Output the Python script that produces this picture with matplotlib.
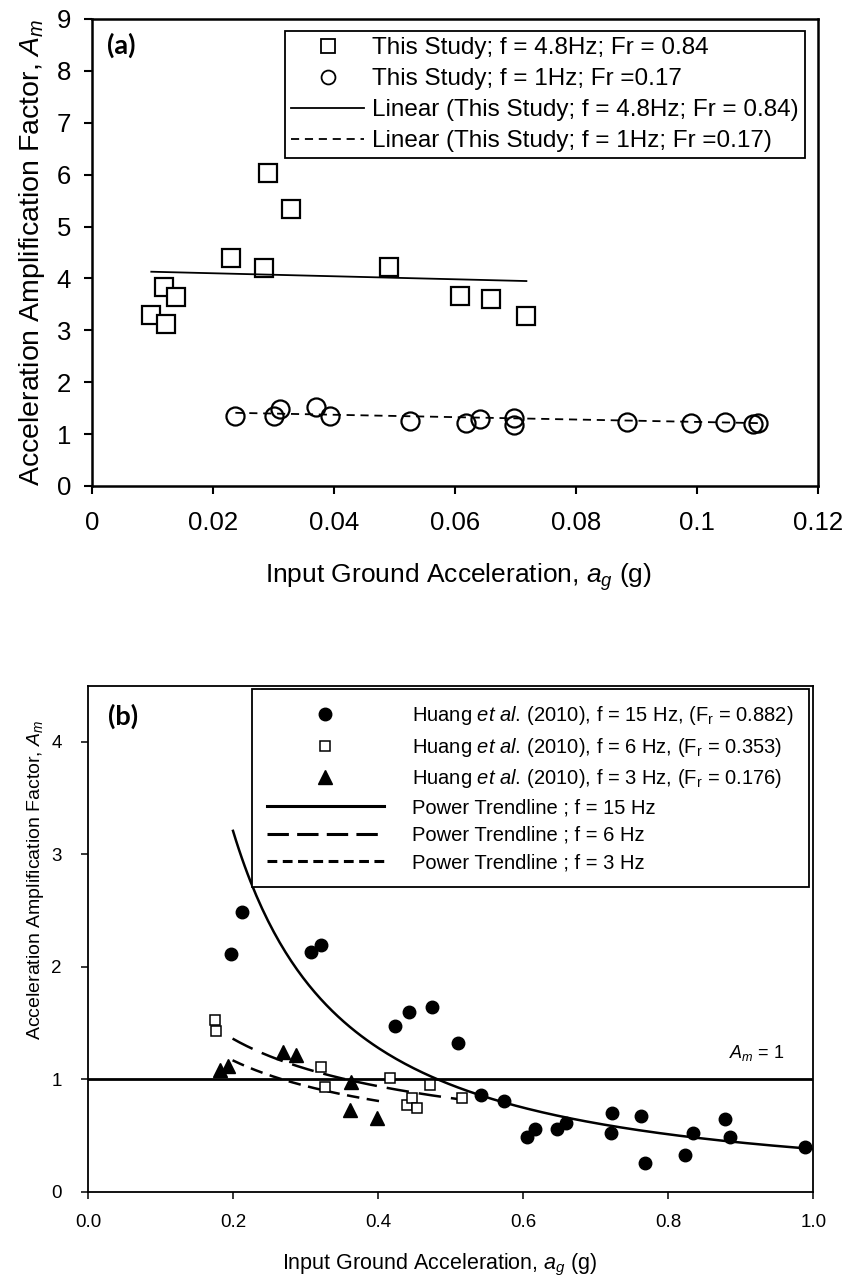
import numpy as np
import matplotlib
matplotlib.use("Agg")
import matplotlib.pyplot as plt
from matplotlib.lines import Line2D

plt.rcParams['font.family'] = ['Liberation Sans', 'DejaVu Sans']
plt.rcParams['mathtext.fontset'] = 'custom'
plt.rcParams['mathtext.rm'] = 'Liberation Sans'
plt.rcParams['mathtext.it'] = 'Liberation Sans:italic'
plt.rcParams['mathtext.bf'] = 'Liberation Sans:bold'

# ---------------- Panel (a) data ----------------
a_sq_x = [0.0098, 0.0119, 0.0123, 0.0139, 0.0230, 0.0285, 0.0291, 0.0329, 0.0491, 0.0608, 0.0660, 0.0718]
a_sq_y = [3.29, 3.84, 3.13, 3.65, 4.40, 4.21, 6.03, 5.34, 4.23, 3.67, 3.60, 3.27]
a_ci_x = [0.0237, 0.0301, 0.0311, 0.0371, 0.0393, 0.0526, 0.0618, 0.0642, 0.0697, 0.0697,
          0.0884, 0.0990, 0.1046, 0.1093, 0.1101]
a_ci_y = [1.35, 1.35, 1.48, 1.53, 1.35, 1.26, 1.22, 1.30, 1.32, 1.18,
          1.24, 1.22, 1.24, 1.19, 1.22]
# linear trendlines: (slope, intercept, x range)
a_lin_sq = (-2.9, 4.158, 0.0098, 0.0718)
a_lin_ci = (-2.3, 1.465, 0.0237, 0.1101)
a_xticks = [0, 0.02, 0.04, 0.06, 0.08, 0.10, 0.12]
a_xticklabels = ['0', '0.02', '0.04', '0.06', '0.08', '0.1', '0.12']
a_yticks = list(range(0, 10))
a_labels = ['This Study; f = 4.8Hz; Fr = 0.84',
            'This Study; f = 1Hz; Fr =0.17',
            'Linear (This Study; f = 4.8Hz; Fr = 0.84)',
            'Linear (This Study; f = 1Hz; Fr =0.17)']

# ---------------- Panel (b) data ----------------
b15_x = [0.1968, 0.2125, 0.307, 0.3205, 0.4225, 0.4426, 0.4747, 0.5097, 0.5417, 0.573,
         0.605, 0.616, 0.646, 0.659, 0.721, 0.723, 0.763, 0.7675, 0.823, 0.834,
         0.8785, 0.8845, 0.989]
b15_y = [2.11, 2.485, 2.13, 2.198, 1.47, 1.60, 1.64, 1.32, 0.858, 0.808,
         0.488, 0.562, 0.562, 0.607, 0.524, 0.704, 0.672, 0.251, 0.325, 0.518,
         0.645, 0.488, 0.399]
b6_x = [0.1744, 0.1766, 0.321, 0.326, 0.4165, 0.440, 0.446, 0.453, 0.4717, 0.516]
b6_y = [1.524, 1.429, 1.109, 0.932, 1.012, 0.769, 0.837, 0.740, 0.947, 0.837]
b3_x = [0.1818, 0.192, 0.269, 0.287, 0.361, 0.363, 0.398]
b3_y = [1.085, 1.114, 1.241, 1.218, 0.724, 0.972, 0.656]
# power trendlines y = a * x^b over [x0, x1]
b_pow15 = (0.38, -1.324, 0.1996, 1.0)
b_pow6 = (0.575, -0.534, 0.199, 0.521)
b_pow3 = (0.496, -0.531, 0.199, 0.402)
b_xticks = [0.0, 0.2, 0.4, 0.6, 0.8, 1.0]
b_yticks = [0, 1, 2, 3, 4]
b_labels = [r'Huang $\mathit{et\ al.}\,$(2010), f = 15 Hz, (F$_\mathrm{r}$ = 0.882)',
            r'Huang $\mathit{et\ al.}\,$(2010), f = 6 Hz, (F$_\mathrm{r}$ = 0.353)',
            r'Huang $\mathit{et\ al.}\,$(2010), f = 3 Hz, (F$_\mathrm{r}$ = 0.176)',
            'Power Trendline ; f = 15 Hz',
            'Power Trendline ; f = 6 Hz',
            'Power Trendline ; f = 3 Hz']

W, H = 847, 1283
fig = plt.figure(figsize=(W / 100, H / 100), dpi=100)

# ================= Panel (a) =================
axa = fig.add_axes([92 / W, 1 - 486 / H, (818 - 92) / W, (486 - 19) / H])
axa.plot(a_sq_x, a_sq_y, ls='none', marker='s', ms=13.5, mfc='white', mec='black', mew=1.6, zorder=3)
axa.plot(a_ci_x, a_ci_y, ls='none', marker='o', ms=13, mfc='none', mec='black', mew=1.6, zorder=3)
xs = np.linspace(a_lin_sq[2], a_lin_sq[3], 50)
axa.plot(xs, a_lin_sq[0] * xs + a_lin_sq[1], color='black', lw=1.3, zorder=4)
xc = np.linspace(a_lin_ci[2], a_lin_ci[3], 50)
axa.plot(xc, a_lin_ci[0] * xc + a_lin_ci[1], color='black', lw=1.3, dashes=(4.5, 3.2), zorder=4)
axa.set_xlim(0, 0.12)
axa.set_ylim(0, 9)
axa.set_xticks(a_xticks)
axa.set_xticklabels(a_xticklabels)
axa.set_yticks(a_yticks)
axa.tick_params(direction='out', length=6, width=1.5, labelsize=18.5)
axa.tick_params(axis='x', pad=12)
axa.tick_params(axis='y', pad=9)
for s in axa.spines.values():
    s.set_linewidth(1.8)
axa.set_xlabel(r'Input Ground Acceleration, $\mathit{a_g}$ (g)', fontsize=19, va='center')
axa.xaxis.set_label_coords(0.505, -0.195)
axa.set_ylabel(r'Acceleration Amplification Factor, $\mathit{A_m}$', fontsize=20.5, va='center')
axa.yaxis.set_label_coords(-0.083, 0.5)
axa.text(0.021, 0.944, '(a)', transform=axa.transAxes, fontsize=19.5, fontweight='bold',
         family=['Lato', 'DejaVu Sans'], va='center', ha='left')
h_a = [Line2D([], [], ls='none', marker='s', ms=10, mfc='white', mec='black', mew=1.3),
       Line2D([], [], ls='none', marker='o', ms=10, mfc='white', mec='black', mew=1.3),
       Line2D([], [], color='black', lw=1.3),
       Line2D([], [], color='black', lw=1.3, dashes=(4.5, 3.2))]
lega = axa.legend(h_a, a_labels, loc='upper right', bbox_to_anchor=(0.982, 0.974),
                  fontsize=17.5, frameon=True, fancybox=False, framealpha=1, edgecolor='black',
                  borderaxespad=0, handlelength=3.0, handletextpad=0.33, labelspacing=0.37,
                  borderpad=0.25)
lega.get_frame().set_linewidth(1.3)

# ================= Panel (b) =================
axb = fig.add_axes([88.3 / W, 1 - 1191.7 / H, (813.3 - 88.3) / W, (1191.7 - 685.7) / H])
axb.axhline(1, color='black', lw=2, zorder=1)
axb.plot(b15_x, b15_y, ls='none', marker='o', ms=9, mfc='black', mec='black', zorder=3)
axb.plot(b6_x, b6_y, ls='none', marker='s', ms=7.5, mfc='white', mec='black', mew=1.1, zorder=3)
axb.plot(b3_x, b3_y, ls='none', marker='^', ms=9.5, mfc='black', mec='black', zorder=3)
for (pa, pb, x0, x1), st in [(b_pow15, None), (b_pow6, (9, 4)), (b_pow3, (5, 3))]:
    xx = np.linspace(x0, x1, 200)
    if st is None:
        axb.plot(xx, pa * xx ** pb, color='black', lw=1.8, zorder=2)
    else:
        axb.plot(xx, pa * xx ** pb, color='black', lw=1.8, dashes=st, zorder=2)
axb.set_xlim(0, 1)
axb.set_ylim(0, 4.5)
axb.set_xticks(b_xticks)
axb.set_xticklabels([f'{v:.1f}' for v in b_xticks])
axb.set_yticks(b_yticks)
axb.tick_params(direction='out', length=5, width=1.1, labelsize=13.5)
axb.tick_params(axis='x', pad=11)
axb.tick_params(axis='y', pad=14)
for s in axb.spines.values():
    s.set_linewidth(1.3)
axb.set_xlabel(r'Input Ground Acceleration, $\mathit{a_g}$ (g)', fontsize=15.5, va='center')
axb.xaxis.set_label_coords(0.485, -0.145)
axb.set_ylabel(r'Acceleration Amplification Factor, $\mathit{A_m}$', fontsize=14, va='center')
axb.yaxis.set_label_coords(-0.0735, 0.616)
axb.text(0.884, 1.23, r'$\mathit{A_m}$ = 1', fontsize=13, va='center', ha='left')
axb.text(0.027, 0.939, '(b)', transform=axb.transAxes, fontsize=19.5, fontweight='bold',
         family=['Lato', 'DejaVu Sans'], va='center', ha='left')
h_b = [Line2D([], [], ls='none', marker='o', ms=9, mfc='black', mec='black'),
       Line2D([], [], ls='none', marker='s', ms=7, mfc='white', mec='black', mew=1.1),
       Line2D([], [], ls='none', marker='^', ms=9.5, mfc='black', mec='black'),
       Line2D([], [], color='black', lw=2.2),
       Line2D([], [], color='black', lw=2.2, dashes=(7, 2.7)),
       Line2D([], [], color='black', lw=2.2, dashes=(3.2, 1.8))]
legb = axb.legend(h_b, b_labels, loc='upper right', bbox_to_anchor=(0.994, 0.9935),
                  fontsize=14.5, frameon=True, fancybox=False, framealpha=1, edgecolor='black',
                  borderaxespad=0, handlelength=5.8, handletextpad=1.43, labelspacing=0.42,
                  borderpad=0.75)
legb.get_frame().set_linewidth(1.3)

fig.savefig('out.png', dpi=100)
